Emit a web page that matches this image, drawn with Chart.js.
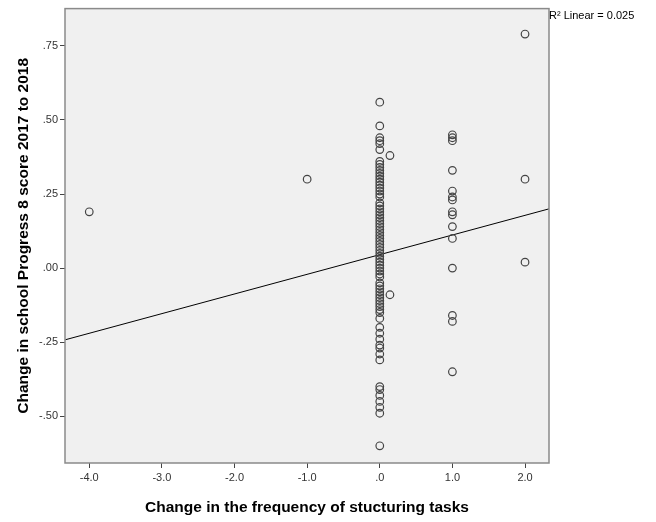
<!DOCTYPE html>
<html>
<head>
<meta charset="utf-8">
<script src="https://cdn.jsdelivr.net/npm/chart.js@4.4.0/dist/chart.umd.min.js"></script>
<style>
html,body{margin:0;padding:0;background:#fff;}
#wrap{width:656px;height:522px;}
</style>
</head>
<body>
<div id="wrap"><canvas id="c" width="656" height="522"></canvas></div>
<script>
// Scatter data
const xMinus4 = [-4];
const yMinus4 = [0.19];
const xMinus1 = [-1];
const yMinus1 = [0.30];
const yZero = [0.56, 0.48, 0.44, 0.43, 0.42, 0.40, 0.36, 0.35, 0.34, 0.33, 0.32, 0.31, 0.30, 0.29, 0.28, 0.27, 0.26, 0.25, 0.24, 0.22, 0.21, 0.20, 0.19, 0.18, 0.17, 0.16, 0.15, 0.14, 0.13, 0.12, 0.11, 0.10, 0.09, 0.08, 0.07, 0.06, 0.05, 0.04, 0.03, 0.02, 0.01, 0.00, -0.01, -0.02, -0.03, -0.05, -0.06, -0.07, -0.08, -0.09, -0.10, -0.11, -0.12, -0.13, -0.14, -0.15, -0.17, -0.20, -0.22, -0.24, -0.26, -0.27, -0.29, -0.31, -0.40, -0.41, -0.43, -0.45, -0.47, -0.49, -0.60];
const xNearZero = [0.14, 0.14];
const yNearZero = [0.38, -0.09];
const yOne = [0.45, 0.44, 0.43, 0.33, 0.26, 0.24, 0.23, 0.19, 0.18, 0.14, 0.10, 0.00, -0.16, -0.18, -0.35];
const yTwo = [0.79, 0.30, 0.02];
// Fit line endpoints
const fitX = [-4.33, 2.33];
const fitY = [-0.242, 0.200];
const rSquaredLabel = 'R\u00B2 Linear = 0.025';
const xTicks = [-4, -3, -2, -1, 0, 1, 2];
const xTickLabels = ['-4.0', '-3.0', '-2.0', '-1.0', '.0', '1.0', '2.0'];
const yTicks = [-0.5, -0.25, 0, 0.25, 0.5, 0.75];
const yTickLabels = ['-.50', '-.25', '.00', '.25', '.50', '.75'];
const xTitle = 'Change in the frequency of stucturing tasks';
const yTitle = 'Change in school Progress 8 score 2017 to 2018';

const points = [];
xMinus4.forEach((x, i) => points.push({x: x, y: yMinus4[i]}));
xMinus1.forEach((x, i) => points.push({x: x, y: yMinus1[i]}));
yZero.forEach(y => points.push({x: 0, y: y}));
xNearZero.forEach((x, i) => points.push({x: x, y: yNearZero[i]}));
yOne.forEach(y => points.push({x: 1, y: y}));
yTwo.forEach(y => points.push({x: 2, y: y}));

const fitPoints = fitX.map((x, i) => ({x: x, y: fitY[i]}));

const FONT = "'Liberation Sans', Arial, sans-serif";

const bgPlugin = {
  id: 'plotBg',
  beforeDraw(chart) {
    const {ctx, chartArea: a} = chart;
    ctx.save();
    ctx.fillStyle = '#f0f0f0';
    ctx.fillRect(a.left, a.top, a.right - a.left, a.bottom - a.top);
    ctx.restore();
  },
  afterDraw(chart) {
    const {ctx, chartArea: a} = chart;
    ctx.save();
    ctx.strokeStyle = '#8a8a8a';
    ctx.lineWidth = 1.5;
    ctx.strokeRect(a.left, a.top, a.right - a.left, a.bottom - a.top);
    ctx.fillStyle = '#000';
    ctx.font = '11px ' + FONT;
    ctx.textBaseline = 'alphabetic';
    ctx.textAlign = 'left';
    ctx.fillText(rSquaredLabel, a.right, 19);
    ctx.restore();
  }
};

new Chart(document.getElementById('c'), {
  type: 'scatter',
  data: {
    datasets: [
      {
        label: 'points',
        data: points,
        pointStyle: 'circle',
        pointRadius: 3.8,
        pointHoverRadius: 3.8,
        borderWidth: 1.2,
        borderColor: '#444444',
        backgroundColor: 'rgba(0,0,0,0)',
        order: 1
      },
      {
        type: 'line',
        label: 'fit',
        data: fitPoints,
        borderColor: '#000',
        borderWidth: 1,
        pointRadius: 0,
        fill: false,
        order: 2
      }
    ]
  },
  options: {
    responsive: false,
    animation: false,
    devicePixelRatio: 1,
    layout: {padding: {top: 6, right: 107, left: 0, bottom: 0}},
    plugins: {legend: {display: false}, tooltip: {enabled: false}},
    scales: {
      x: {
        type: 'linear',
        min: -4.334,
        max: 2.33,
        afterBuildTicks(scale) { scale.ticks = xTicks.map(v => ({value: v})); },
        afterFit(scale) { scale.height = 59; },
        grid: {drawOnChartArea: false, drawTicks: true, tickLength: 5, color: '#444'},
        border: {display: false},
        ticks: {
          color: '#333',
          font: {family: FONT, size: 11},
          padding: 3,
          maxRotation: 0,
          callback(v) { const i = xTicks.indexOf(v); return i >= 0 ? xTickLabels[i] : ''; }
        },
        title: {display: true, text: xTitle, color: '#000', font: {family: FONT, size: 15.5, weight: 'bold'}, padding: {top: 0, bottom: 5}}
      },
      y: {
        type: 'linear',
        min: -0.658,
        max: 0.876,
        afterBuildTicks(scale) { scale.ticks = yTicks.map(v => ({value: v})); },
        afterFit(scale) { scale.width = 65; },
        grid: {drawOnChartArea: false, drawTicks: true, tickLength: 5, color: '#444'},
        border: {display: false},
        ticks: {
          color: '#333',
          font: {family: FONT, size: 11},
          padding: 2,
          callback(v) { const i = yTicks.indexOf(v); return i >= 0 ? yTickLabels[i] : ''; }
        },
        title: {display: true, text: yTitle, color: '#000', font: {family: FONT, size: 15.5, weight: 'bold'}, padding: {top: 14, bottom: 0}}
      }
    }
  },
  plugins: [bgPlugin]
});
</script>
</body>
</html>
